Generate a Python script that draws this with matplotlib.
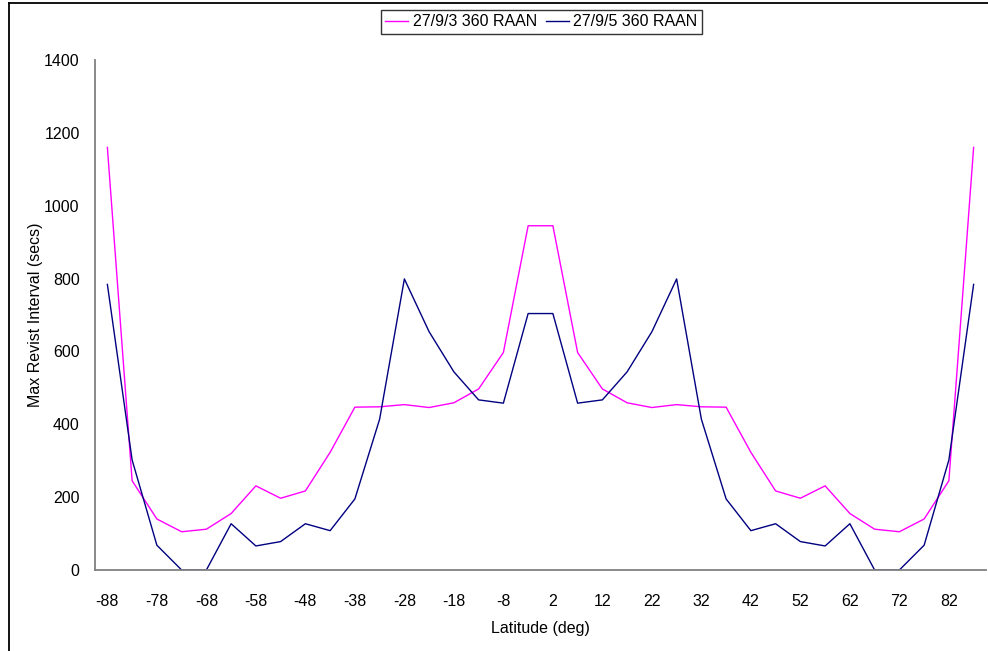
import matplotlib
matplotlib.use("Agg")
import matplotlib.pyplot as plt
from matplotlib.lines import Line2D

plt.rcParams['font.family'] = ['Liberation Sans', 'DejaVu Sans']

latitudes = [-88, -83, -78, -73, -68, -63, -58, -53, -48, -43, -38, -33, -28, -23, -18, -13, -8, -3,
             2, 7, 12, 17, 22, 27, 32, 37, 42, 47, 52, 57, 62, 67, 72, 77, 82, 87]

raan_3 = [1160, 245, 140, 105, 112, 155, 231, 197, 217, 323, 447, 448, 454, 446, 459, 497, 597, 945,
          945, 597, 497, 459, 446, 454, 448, 447, 323, 217, 197, 231, 155, 112, 105, 140, 245, 1160]

raan_5 = [784, 302, 68, 0, 0, 127, 66, 78, 127, 108, 195, 414, 799, 654, 544, 467, 458, 704,
          704, 458, 467, 544, 654, 799, 414, 195, 108, 127, 78, 66, 127, 0, 0, 68, 302, 784]

series_names = ["27/9/3 360 RAAN", "27/9/5 360 RAAN"]
y_ticks = [0, 200, 400, 600, 800, 1000, 1200, 1400]

W, H = 988, 651
fig = plt.figure(figsize=(W / 100, H / 100), dpi=100)
ax = fig.add_axes([95 / W, (H - 570) / H, (986 - 95) / W, 510 / H])

x = list(range(len(latitudes)))
l1, = ax.plot(x, raan_3, color='#FF00FF', lw=1.0, label=series_names[0])
l2, = ax.plot(x, raan_5, color='#000080', lw=1.0, label=series_names[1])

ax.set_xlim(-0.5, len(latitudes) - 0.5)
ax.set_ylim(0, 1400)
ax.set_yticks(y_ticks)
ax.set_yticklabels([str(v) for v in y_ticks])
ax.set_xticks(x[::2])
ax.set_xticklabels([str(v) for v in latitudes[::2]])
ax.tick_params(axis='both', length=0, labelsize=11.5, colors='black')
ax.tick_params(axis='x', pad=17)
ax.tick_params(axis='y', pad=11)

for s in ['top', 'right']:
    ax.spines[s].set_visible(False)
for s in ['left', 'bottom']:
    ax.spines[s].set_color('#808080')
    ax.spines[s].set_linewidth(1.3)

ax.set_xlabel("Latitude (deg)", fontsize=11.5, labelpad=9)
ax.set_ylabel("Max Revist Interval (secs)", fontsize=11.5, labelpad=1)

leg = fig.legend(handles=[l1, l2], loc='center', bbox_to_anchor=(541.5 / W, 1 - 22 / H),
                 ncol=2, frameon=True, fancybox=False, fontsize=11.5,
                 handlelength=1.4, handletextpad=0.3, columnspacing=0.6,
                 borderpad=0.3, borderaxespad=0)
leg.get_frame().set_edgecolor('black')
leg.get_frame().set_linewidth(1.0)

# outer chart border (cropped)
fig.add_artist(Line2D([9 / W, 9 / W], [0, 1 - 3 / H], color='black', lw=1.3, transform=fig.transFigure))
fig.add_artist(Line2D([9 / W, 1], [1 - 3 / H, 1 - 3 / H], color='black', lw=1.3, transform=fig.transFigure))

fig.savefig("out.png", dpi=100)
